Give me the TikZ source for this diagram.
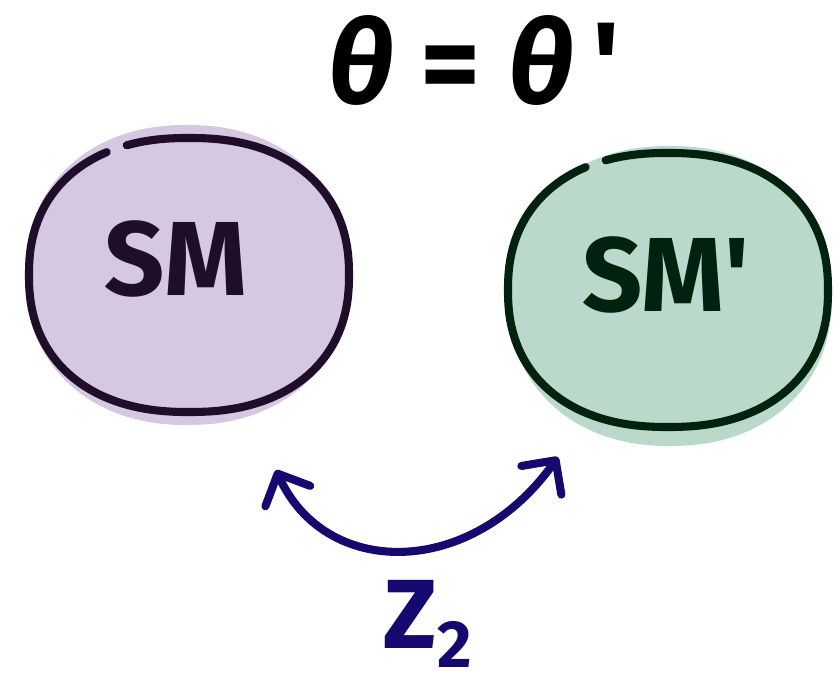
\documentclass[tikz,border=0pt]{standalone}
\usepackage{fontspec}
\setmainfont{Fira Sans}
\usetikzlibrary{arrows.meta}
\definecolor{smfill}{HTML}{D6C8E0}
\definecolor{smline}{HTML}{1F0D2A}
\definecolor{smpfill}{HTML}{BBD9CA}
\definecolor{smpline}{HTML}{03210F}
\definecolor{zzblue}{HTML}{15096F}
% rounded outline: centre x, centre y, x radius, y radius
\newcommand{\sqcirc}[4]{plot[domain=250:602, samples=120, smooth]
  ({#1+#3*sign(cos(\x))*(abs(cos(\x))+0.0001)^0.88}, {#2+#4*sign(sin(\x))*(abs(sin(\x))+0.0001)^0.88})}
\newcommand{\sqblob}[4]{plot[domain=0:360, samples=120, smooth cycle]
  ({#1+#3*sign(cos(\x))*(abs(cos(\x))+0.0001)^0.92}, {#2+#4*sign(sin(\x))*(abs(sin(\x))+0.0001)^0.92})}
\begin{document}
\begin{tikzpicture}[x=0.02cm, y=-0.02cm, line cap=round, line join=round,
  >={Straight Barb[length=14pt, width=28pt, line cap=round, line join=round]},
  bigtext/.style={anchor=base, inner sep=0pt, font=\bfseries\fontsize{60}{60}\selectfont},
  ring/.style={line width=4.6pt}]
\useasboundingbox (0,0) rectangle (839,692);
% left sector
\fill[smfill] \sqblob{187}{275}{162}{150};
\draw[ring, smline] \sqcirc{189}{275}{160}{137};
\node[bigtext, text=smline] (sm) at (176,296) {SM};
% right sector
\fill[smpfill] \sqblob{670}{296}{162}{150};
\draw[ring, smpline] \sqcirc{668}{290}{160}{137};
\node[bigtext, text=smpline] (smp) at (666,312) {SM\textquotesingle};
% top relation
\node[bigtext, font=\bfseries\fontsize{66}{66}\selectfont] (theta) at (474,104) {\textit{θ} = \textit{θ}\,\textquotesingle};
% symmetry
\coordinate (za) at (276,470);
\coordinate (zb) at (558,457);
\draw[<->, zzblue, line width=4.6pt] (za) .. controls (325,578) and (470,580) .. (zb);
\node[bigtext, text=zzblue, font=\bfseries\fontsize{56}{56}\selectfont] (zz) at (428,648) {Z\raisebox{-0.2em}{\fontsize{38}{38}\selectfont 2}};
\end{tikzpicture}
\end{document}
